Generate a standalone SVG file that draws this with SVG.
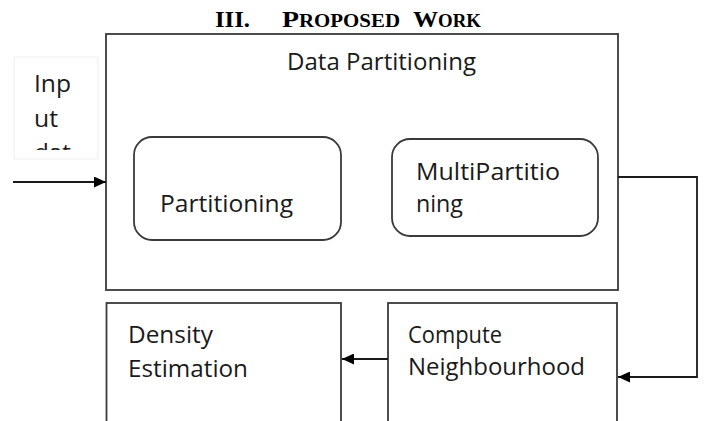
<svg xmlns="http://www.w3.org/2000/svg" width="704" height="421" viewBox="0 0 704 421">
  <style>
    .box { fill: #fff; stroke: #3a3a3a; stroke-width: 1.8; }
    .lbl { font-family: "Open Sans", "Noto Sans", "DejaVu Sans", sans-serif; font-size: 23px; fill: #1a1a1a; }
    .title { font-family: "Liberation Serif", "Times New Roman", serif; font-weight: bold; fill: #000; }
    .wire { fill: none; stroke: #1a1a1a; stroke-width: 1.8; }
  </style>
  <defs>
    <marker id="head" markerUnits="userSpaceOnUse" markerWidth="13" markerHeight="11" refX="12" refY="5.5" orient="auto">
      <path d="M0,0 L12,5.5 L0,11 Z" fill="#000"/>
    </marker>
    <clipPath id="inputClip">
      <rect x="14" y="57" width="84" height="93"/>
    </clipPath>
  </defs>

  <rect width="704" height="421" fill="#fff"/>

  <!-- section heading -->
  <g id="heading">
    <text class="title" x="215" y="27" font-size="24" textLength="35" lengthAdjust="spacingAndGlyphs">III.</text>
    <text class="title" x="282" y="27" font-size="24" textLength="118" lengthAdjust="spacingAndGlyphs">P<tspan font-size="18">ROPOSED</tspan></text>
    <text class="title" x="413" y="27" font-size="24" textLength="68" lengthAdjust="spacingAndGlyphs">W<tspan font-size="18">ORK</tspan></text>
  </g>

  <!-- input label (text overflows its frame and is cut off) -->
  <g id="input">
    <rect x="14" y="57" width="84" height="102" fill="#fff" stroke="#eeeeee" stroke-width="1"/>
    <g clip-path="url(#inputClip)">
      <text class="lbl" x="34" y="92" textLength="37" lengthAdjust="spacingAndGlyphs">Inp</text>
      <text class="lbl" x="34" y="127" textLength="24" lengthAdjust="spacingAndGlyphs">ut</text>
      <text class="lbl" x="34" y="161" textLength="37" lengthAdjust="spacingAndGlyphs">dat</text>
    </g>
  </g>

  <!-- data partitioning stage -->
  <g id="data-partitioning">
    <rect class="box" x="106" y="34" width="512" height="256"/>
    <text class="lbl" x="287" y="70" textLength="189" lengthAdjust="spacingAndGlyphs">Data Partitioning</text>
  </g>

  <g id="partitioning">
    <rect class="box" x="134" y="137" width="207" height="103" rx="18" ry="18"/>
    <text class="lbl" x="160" y="212" textLength="133" lengthAdjust="spacingAndGlyphs">Partitioning</text>
  </g>

  <g id="multipartitioning">
    <rect class="box" x="392" y="139" width="206" height="97" rx="18" ry="18"/>
    <text class="lbl" x="416" y="180" textLength="144" lengthAdjust="spacingAndGlyphs">MultiPartitio</text>
    <text class="lbl" x="416" y="212" textLength="47" lengthAdjust="spacingAndGlyphs">ning</text>
  </g>

  <g id="density-estimation">
    <rect class="box" x="106.5" y="303" width="234.5" height="140"/>
    <text class="lbl" x="128" y="343" textLength="85" lengthAdjust="spacingAndGlyphs">Density</text>
    <text class="lbl" x="128" y="377" textLength="120" lengthAdjust="spacingAndGlyphs">Estimation</text>
  </g>

  <g id="compute-neighbourhood">
    <rect class="box" x="388" y="303" width="229" height="140"/>
    <text class="lbl" x="408" y="343" textLength="94" lengthAdjust="spacingAndGlyphs">Compute</text>
    <text class="lbl" x="408" y="375" textLength="177" lengthAdjust="spacingAndGlyphs">Neighbourhood</text>
  </g>

  <!-- connectors -->
  <g id="connectors">
    <line class="wire" x1="13" y1="182" x2="106" y2="182" marker-end="url(#head)"/>
    <polyline class="wire" points="618,177 697,177 697,377 618,377" marker-end="url(#head)"/>
    <line class="wire" x1="388" y1="359" x2="342" y2="359" marker-end="url(#head)"/>
  </g>
</svg>
